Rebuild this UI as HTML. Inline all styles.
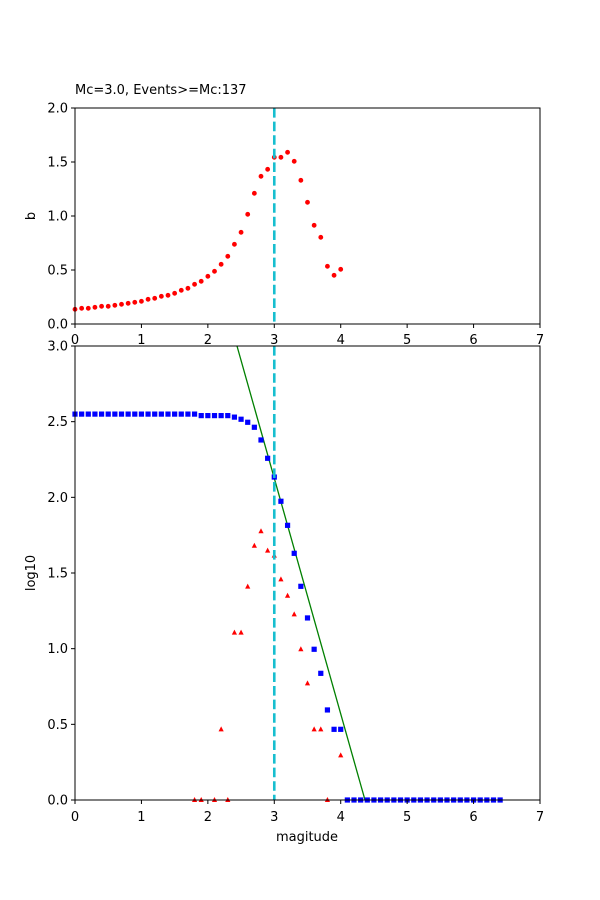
<!DOCTYPE html>
<html><head><meta charset="utf-8"><style>body{margin:0;background:#fff}svg{display:block}text{font-family:"DejaVu Sans","Liberation Sans",sans-serif;font-size:13px;fill:#000}</style></head>
<body>
<svg id="s" width="600" height="900" xmlns="http://www.w3.org/2000/svg">
<rect width="600" height="900" fill="#fff"/>
<g id="g"></g>
</svg>
<script>
const ns="http://www.w3.org/2000/svg";let h="";
const X=m=>75+m*66.4286;
const Yt=b=>324-b*108, Yb=v=>800-v*151.333;
// title
h+=`<text x="75" y="94">Mc=3.0, Events>=Mc:137</text>`;
// top points
const zy=[628,625,625,622,619,619,616,613,610,607,604,598,595,589,586,580,571,565,553,544,529,514,493,469,433,397,343,280,229,208,172,172,157,184,241,307,376,412,499,526,508];
zy.forEach((z,i)=>{h+=`<circle cx="${X(i/10)}" cy="${100+z/3}" r="2.4" fill="#f00"/>`;});
// bottom green line
h+=`<line x1="237" y1="346" x2="365" y2="800" stroke="#008000" stroke-width="1.3"/>`;
// blue squares
const blue={};for(let i=0;i<=18;i++)blue[i]=2.55;
Object.assign(blue,{19:2.54,20:2.54,21:2.54,22:2.54,23:2.54,24:2.53,25:2.516,26:2.496,27:2.463,28:2.379,29:2.258,30:2.134,31:1.974,32:1.815,33:1.63,34:1.412,35:1.203,36:0.996,37:0.837,38:0.595,39:0.467,40:0.467});
for(let i=41;i<=64;i++)blue[i]=0;
for(const k in blue){const x=X(k/10),y=Yb(blue[k]);h+=`<rect x="${x-2.6}" y="${y-2.6}" width="5.2" height="5.2" fill="#00f"/>`;}
// red triangles
const red={18:0,19:0,21:0,23:0,22:0.467,24:1.106,25:1.106,26:1.41,27:1.68,28:1.776,29:1.648,30:1.615,31:1.458,32:1.35,33:1.227,34:0.996,35:0.771,36:0.467,37:0.467,38:0,40:0.295};
for(const k in red){const x=X(k/10),y=Yb(red[k]);h+=`<polygon points="${x},${y-3} ${x-2.6},${y+2} ${x+2.6},${y+2}" fill="#f00"/>`;}
// dashed verticals
h+=`<line x1="${X(3)}" y1="108" x2="${X(3)}" y2="324" stroke="#17becf" stroke-width="2.6" stroke-dasharray="9.6,4"/>`;
h+=`<line x1="${X(3)}" y1="346" x2="${X(3)}" y2="800" stroke="#17becf" stroke-width="2.6" stroke-dasharray="9.6,4"/>`;
// axes frames
h+=`<rect x="75" y="108" width="465" height="216" fill="none" stroke="#000" stroke-width="1"/>`;
h+=`<rect x="75" y="346" width="465" height="454" fill="none" stroke="#000" stroke-width="1"/>`;
// x ticks
for(let m=0;m<=7;m++){const x=X(m);
 h+=`<line x1="${x}" y1="324" x2="${x}" y2="328" stroke="#000"/><text x="${x}" y="344" text-anchor="middle">${m}</text>`;
 h+=`<line x1="${x}" y1="800" x2="${x}" y2="804" stroke="#000"/><text x="${x}" y="821" text-anchor="middle">${m}</text>`;}
// y ticks top
for(let i=0;i<=4;i++){const v=i*0.5,y=Yt(v);h+=`<line x1="71" y1="${y}" x2="75" y2="${y}" stroke="#000"/><text x="68" y="${y+4.5}" text-anchor="end">${v.toFixed(1)}</text>`;}
for(let i=0;i<=6;i++){const v=i*0.5,y=Yb(v);h+=`<line x1="71" y1="${y}" x2="75" y2="${y}" stroke="#000"/><text x="68" y="${y+4.5}" text-anchor="end">${v.toFixed(1)}</text>`;}
h+=`<text transform="translate(35,216) rotate(-90)" text-anchor="middle">b</text>`;
h+=`<text transform="translate(35,573) rotate(-90)" text-anchor="middle">log10</text>`;
h+=`<text x="307" y="841" text-anchor="middle">magitude</text>`;
document.getElementById("g").innerHTML=h;
</script>
</body></html>
